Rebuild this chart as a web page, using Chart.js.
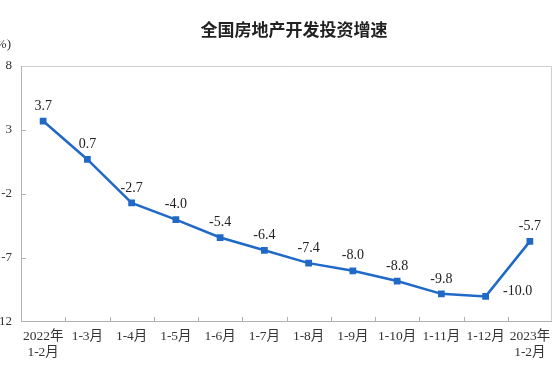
<!DOCTYPE html>
<html><head><meta charset="utf-8">
<script src="https://cdn.jsdelivr.net/npm/chart.js@4"></script>
<style>html,body{margin:0;padding:0;background:#fff}#c{display:block}</style>
</head><body>
<canvas id="c" width="560" height="379"></canvas>
<script>
const categories = [["2022年","1-2月"],"1-3月","1-4月","1-5月","1-6月","1-7月","1-8月","1-9月","1-10月","1-11月","1-12月",["2023年","1-2月"]];
const values = [3.7,0.7,-2.7,-4.0,-5.4,-6.4,-7.4,-8.0,-8.8,-9.8,-10.0,-5.7];
const valueLabels = ["3.7","0.7","-2.7","-4.0","-5.4","-6.4","-7.4","-8.0","-8.8","-9.8","-10.0","-5.7"];
const yTicks = [8,3,-2,-7,-12];
const titleText = "全国房地产开发投资增速";
const unitText = "(%)";

const serif = '"Liberation Serif","Noto Sans CJK SC",serif';
const extras = {
  id:'extras',
  beforeDraw(chart){
    const ctx=chart.ctx;
    ctx.save();
    ctx.fillStyle='#fff';ctx.fillRect(0,0,chart.width,chart.height);
    ctx.restore();
  },
  afterDraw(chart){
    const ctx=chart.ctx, a=chart.chartArea;
    const xs=chart.scales.x, ys=chart.scales.y;
    ctx.save();
    ctx.strokeStyle='#d0d0d0';ctx.lineWidth=1;
    ctx.beginPath();
    ctx.moveTo(a.left+0.5,a.top+0.5);ctx.lineTo(a.right-0.5,a.top+0.5);ctx.lineTo(a.right-0.5,a.bottom);
    ctx.stroke();
    ctx.strokeStyle='#b0b0b0';
    ctx.beginPath();
    ctx.moveTo(a.left+0.5,a.top);ctx.lineTo(a.left+0.5,a.bottom-0.5);ctx.lineTo(a.right,a.bottom-0.5);
    ctx.stroke();
    ctx.beginPath();
    for(let i=1;i<categories.length;i++){
      const x=Math.round((xs.getPixelForValue(i-1)+xs.getPixelForValue(i))/2)+0.5;
      ctx.moveTo(x,a.bottom);ctx.lineTo(x,a.bottom-5);
    }
    yTicks.forEach(v=>{
      if(v===8||v===-12)return;
      const y=Math.round(ys.getPixelForValue(v))+0.5;
      ctx.moveTo(a.left,y);ctx.lineTo(a.left+5,y);
    });
    ctx.stroke();
    ctx.fillStyle='#222';
    ctx.font='bold 17px "Noto Sans CJK SC",sans-serif';
    ctx.textAlign='center';ctx.textBaseline='middle';
    ctx.fillText(titleText,294,30);
    ctx.font='13px '+serif;ctx.fillStyle='#333';
    ctx.textAlign='right';
    ctx.fillText(unitText,11,45);
    ctx.font='14px '+serif;ctx.fillStyle='#222';
    const meta=chart.getDatasetMeta(0);
    meta.data.forEach((p,i)=>{
      let x=p.x,y=p.y-15;
      ctx.textAlign='center';
      if(i===10){x=p.x+32;y=p.y-5;}
      ctx.fillText(valueLabels[i],x,y);
    });
    ctx.restore();
  }
};

new Chart(document.getElementById('c'),{
  type:'line',
  data:{labels:categories,datasets:[{data:values,borderColor:'#2169c7',backgroundColor:'#2169c7',borderWidth:2.5,pointStyle:'rect',pointRadius:3,pointHoverRadius:3,tension:0}]},
  options:{
    responsive:false,animation:false,
    layout:{padding:{top:66,right:8,left:0,bottom:0}},
    plugins:{legend:{display:false},tooltip:{enabled:false},title:{display:false}},
    scales:{
      x:{offset:true,grid:{display:false,drawTicks:false},border:{display:false},
        ticks:{color:'#333',font:{family:serif,size:13.5},padding:6,maxRotation:0,autoSkip:false},
        afterFit(s){s.height=57;}},
      y:{min:-12,max:8,grid:{display:false,drawTicks:false},border:{display:false},
        afterBuildTicks(s){s.ticks=yTicks.map(v=>({value:v}));},
        ticks:{color:'#333',font:{family:serif,size:13},padding:9},
        afterFit(s){s.width=21;}}
    }
  },
  plugins:[extras]
});
</script>
</body></html>
